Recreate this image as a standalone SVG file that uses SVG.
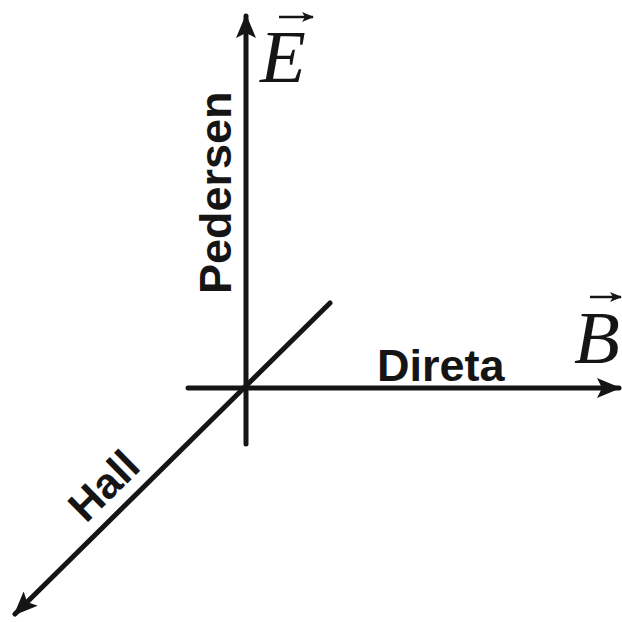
<svg xmlns="http://www.w3.org/2000/svg" width="622" height="622" viewBox="0 0 622 622">
<defs>
<style>
.ax{stroke:#151515;stroke-width:5;fill:none;stroke-linecap:round}
.lbl{font-family:"Liberation Sans",Arial,sans-serif;font-weight:bold;font-size:45px;fill:#151515}
.vec{font-family:"Liberation Serif","Times New Roman",serif;font-style:italic;font-size:75px;fill:#151515}
.va{stroke:#151515;stroke-width:2.5;fill:none}
</style>
<marker id="ah" viewBox="0 0 24 20" refX="22" refY="10" markerWidth="24" markerHeight="20" markerUnits="userSpaceOnUse" orient="auto">
<path d="M0,0 L24,10 L0,20 L5,10 Z" fill="#151515"/>
</marker>
<marker id="sh" viewBox="0 0 12 10" refX="11" refY="5" markerWidth="12" markerHeight="10" markerUnits="userSpaceOnUse" orient="auto">
<path d="M0,0 L12,5 L0,10 L3,5 Z" fill="#151515"/>
</marker>
</defs>
<rect width="622" height="622" fill="#ffffff"/>
<g id="connectors">
<line class="ax" x1="246" y1="444" x2="246" y2="16" marker-end="url(#ah)"/>
<line class="ax" x1="188" y1="388" x2="619" y2="388" marker-end="url(#ah)"/>
<line class="ax" x1="330" y1="303" x2="15" y2="614" marker-end="url(#ah)"/>
</g>
<g id="pedersen">
<text class="lbl" transform="translate(231,294) rotate(-90)">Pedersen</text>
</g>
<g id="direta">
<text class="lbl" x="377" y="381">Direta</text>
</g>
<g id="hall">
<text class="lbl" style="font-size:43px" transform="translate(86,524) rotate(-44.6)">Hall</text>
</g>
<g id="E">
<text class="vec" x="260" y="82">E</text>
<line class="va" x1="279" y1="17" x2="313" y2="17" marker-end="url(#sh)"/>
</g>
<g id="B">
<text class="vec" x="574" y="363">B</text>
<line class="va" x1="590" y1="297" x2="621" y2="297" marker-end="url(#sh)"/>
</g>
</svg>
